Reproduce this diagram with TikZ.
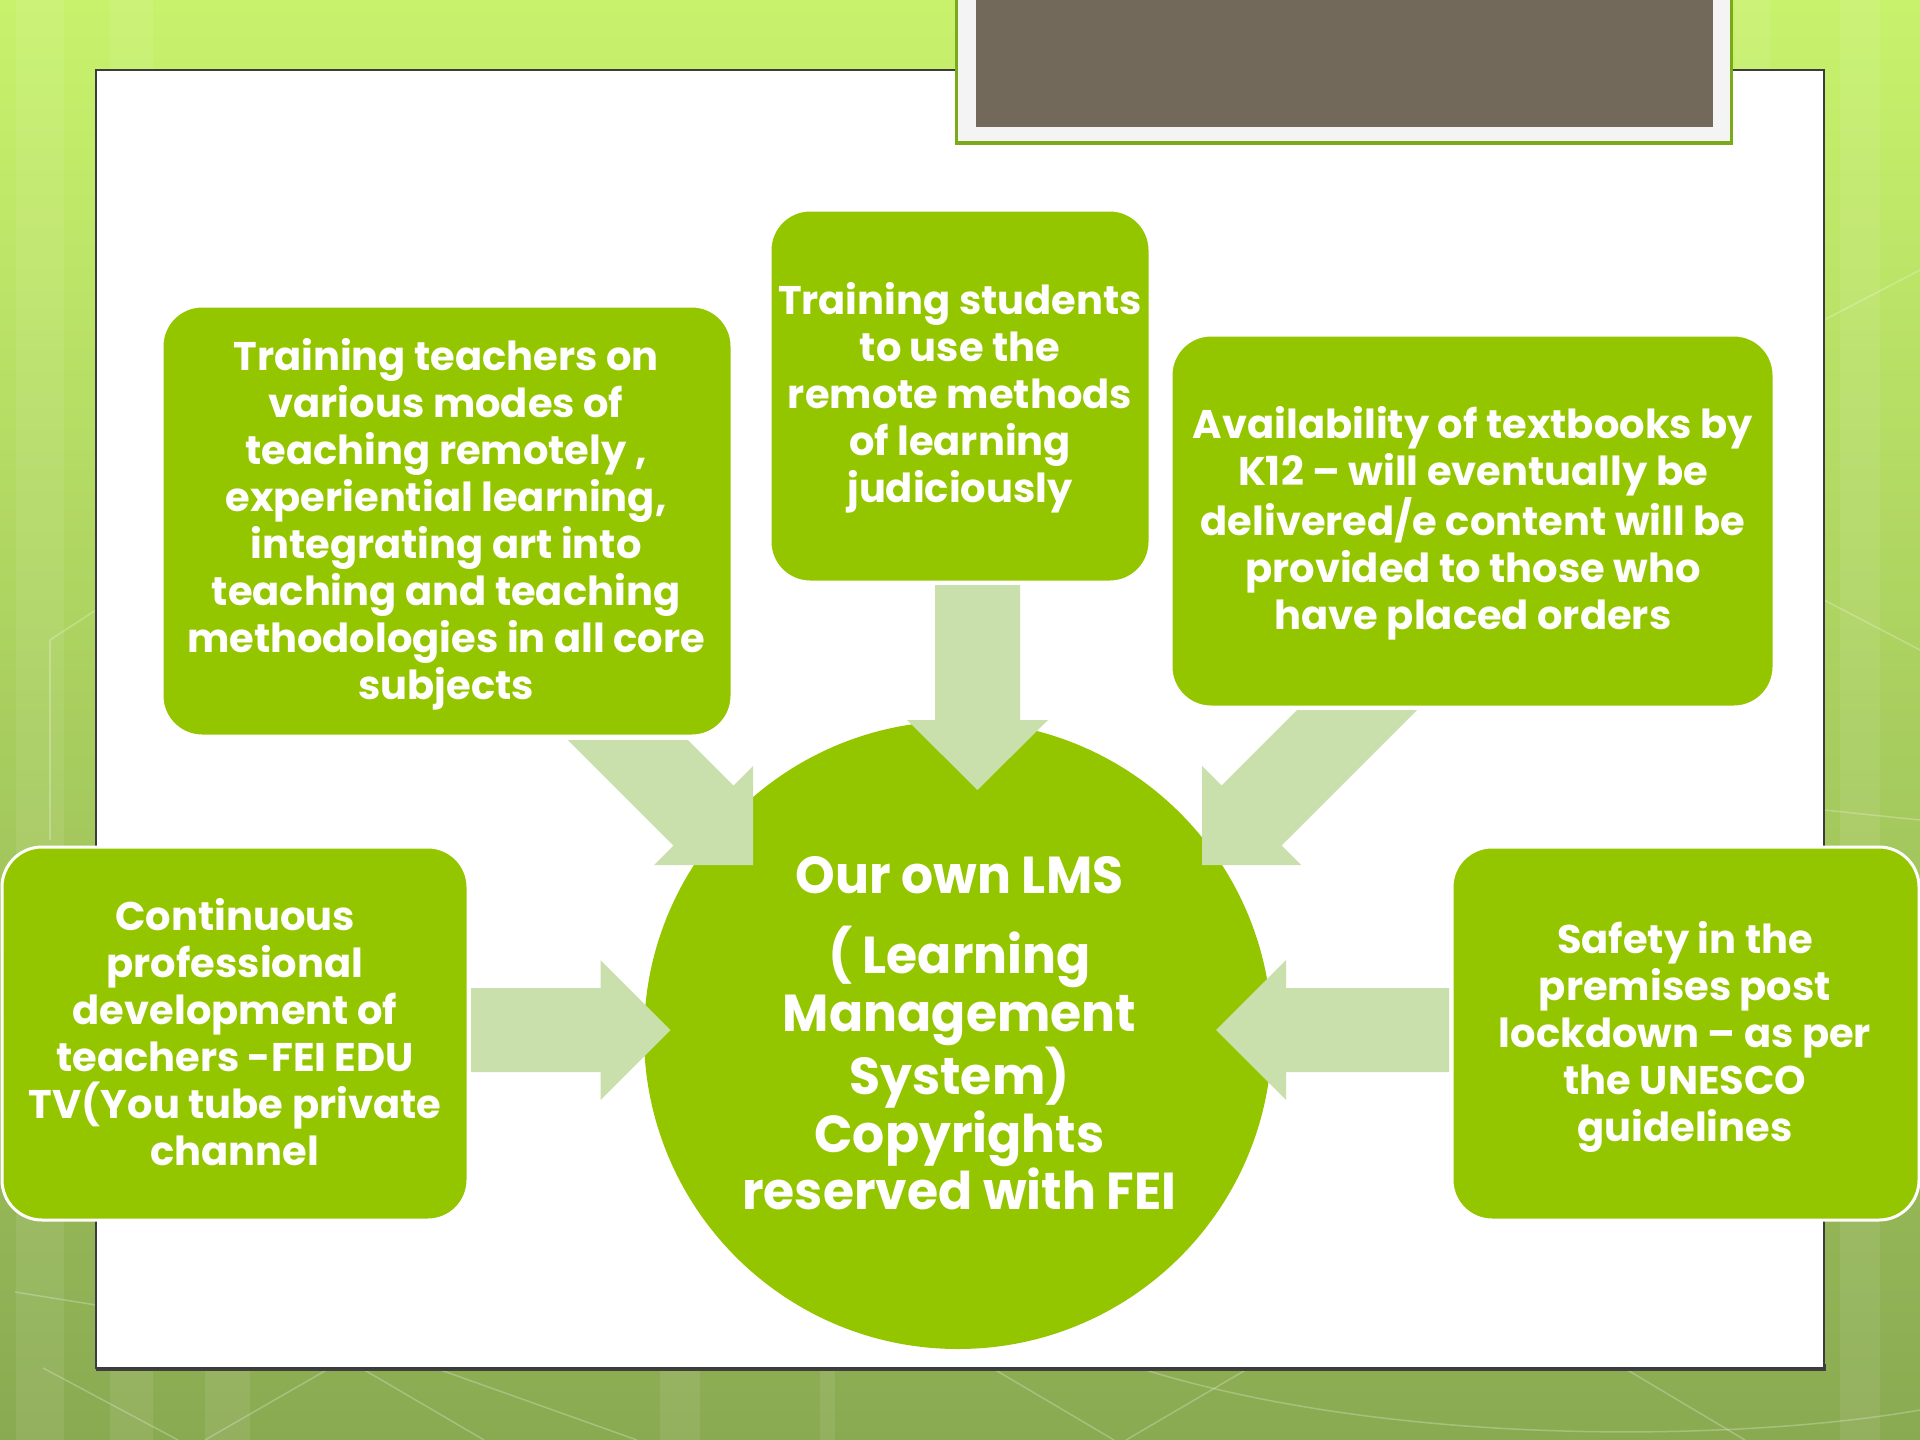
\documentclass[tikz,border=0pt]{standalone}
\usepackage{fontspec}
\setmainfont{Poppins}
\newfontfamily\lmsfont{Poppins}[FakeStretch=0.97]
\definecolor{bgtop}{RGB}{200,242,108}
\definecolor{bgmid}{RGB}{178,220,98}
\definecolor{bgbot}{RGB}{138,170,82}
\definecolor{boxgreen}{RGB}{148,198,0}
\definecolor{arrowgreen}{RGB}{201,223,172}
\definecolor{titlebrown}{RGB}{114,105,90}
\definecolor{framegray}{RGB}{244,244,244}
\definecolor{frameedge}{RGB}{122,170,26}
\definecolor{paneledge}{RGB}{60,60,60}
\tikzset{
  gbox/.style={rectangle, rounded corners=40pt, fill=boxgreen, draw=white, line width=3pt, inner sep=0pt},
  blockarrow/.style={fill=arrowgreen, draw=none},
  boxtext/.style={text=white, align=center, inner sep=0pt, font=\fontsize{40}{47}\selectfont\bfseries},
  centertext/.style={text=white, align=center, inner sep=0pt, font=\lmsfont\fontsize{52}{57.8}\selectfont\bfseries},
  stripe/.style={fill=white, fill opacity=0.08, draw=none},
  bgline/.style={draw=white, draw opacity=0.25, line width=1.5pt}
}
\begin{document}
\begin{tikzpicture}[x=1pt,y=-1pt]
\useasboundingbox (0,0) rectangle (1920,1440);
% background
\shade[top color=bgtop, middle color=bgmid, bottom color=bgbot] (0,0) rectangle (1920,1440);
\fill[stripe] (16,0) rectangle (64,1440);
\fill[stripe] (110,0) rectangle (153,1440);
\fill[stripe] (205,1368) rectangle (250,1440);
\fill[stripe] (660,1368) rectangle (700,1440);
\fill[stripe] (820,1368) rectangle (835,1440);
\fill[stripe] (1735,0) rectangle (1770,70);
\fill[stripe] (1840,0) rectangle (1880,1440);
\draw[bgline] (15,1292) -- (96,1305);
\draw[bgline] (43,1368) -- (178,1440);
\draw[bgline] (361,1368) -- (484,1440);
\draw[bgline] (435,1368) -- (637,1440);
\draw[bgline] (330,1368) -- (205,1440);
\draw[bgline] (992,1368) -- (1114,1440);
\draw[bgline] (1249,1368) -- (1126,1440);
\draw[bgline] (1139,1368) .. controls (1400,1450) and (1750,1440) .. (1920,1410);
\draw[bgline] (1624,1368) -- (1745,1440);
\draw[bgline] (1824,320) -- (1920,270);
\draw[bgline] (1824,810) -- (1920,820);
\draw[bgline] (1824,600) -- (1920,650);
\draw[bgline] (50,640) -- (96,610);
\draw[bgline] (50,640) -- (50,840);
% white panel
\fill[black!75] (96,1364) rectangle (1826,1371);
\draw[paneledge, line width=2pt, fill=white] (96,70) rectangle (1824,1368);
% title frame
\fill[frameedge] (955,0) rectangle (1733,145);
\fill[framegray] (958,0) rectangle (1730,141);
\fill[titlebrown] (976,0) rectangle (1713,127);
% central circle
\fill[boxgreen] (958,1035) circle[radius=314];
\node[circle, minimum size=628pt, inner sep=0pt] (lms) at (958,1035) {};
% boxes
\node[gbox, minimum width=570pt, minimum height=430pt] (tl) at (447,521) {};
\node[gbox, minimum width=380pt, minimum height=372pt] (tc) at (960,396) {};
\node[gbox, minimum width=603pt, minimum height=372pt] (tr) at (1472.5,521) {};
\node[gbox, minimum width=466pt, minimum height=373pt] (lb) at (235,1033.5) {};
\node[gbox, minimum width=467pt, minimum height=373pt] (rb) at (1685.5,1033.5) {};
% block arrows
\fill[blockarrow] (935,585) -- (1020,585) -- (1020,720) -- (1048,720) -- (977.5,790) -- (907,720) -- (935,720) -- cycle;
\fill[blockarrow] (568,740) -- (688,740) -- (733.5,785.5) -- (753,766) -- (753,865) -- (654,865) -- (673.5,845.5) -- cycle;
\fill[blockarrow] (1297,710) -- (1417,710) -- (1281.5,845.5) -- (1301,865) -- (1202,865) -- (1202,766) -- (1221.5,785.5) -- cycle;
\fill[blockarrow] (471,988) -- (600.5,988) -- (600.5,960) -- (670.5,1030) -- (600.5,1100) -- (600.5,1072) -- (471,1072) -- cycle;
\fill[blockarrow] (1449,988) -- (1286,988) -- (1286,960) -- (1216,1030) -- (1286,1100) -- (1286,1072) -- (1449,1072) -- cycle;
% texts
\node[boxtext] (tltext) at (446,525.6) {\strut Training teachers on\\various modes of\\teaching remotely ,\\experiential learning,\\integrating art into\\teaching and teaching\\methodologies in all core\\subjects\strut};
\node[boxtext] (tctext) at (960,398.9) {\strut Training students\\to use the\\remote methods\\of learning\\judiciously\strut};
\node[boxtext] (trtext) at (1473,524.8) {\strut Availability of textbooks by\\K12 – will eventually be\\delivered/e content will be\\provided to those who\\have placed orders\strut};
\node[boxtext] (lbtext) at (235,1038.1) {\strut Continuous\\professional\\development of\\teachers -FEI EDU\\TV(You tube private\\channel\strut};
\node[boxtext] (rbtext) at (1685,1038.1) {\strut Safety in the\\premises post\\lockdown – as per\\the UNESCO\\guidelines\strut};
\node[centertext] (lmstext) at (959.5,1040) {\strut Our own LMS\\[14.6pt]( Learning\\Management\\System)\\Copyrights\\reserved with FEI\strut};
\end{tikzpicture}
\end{document}
